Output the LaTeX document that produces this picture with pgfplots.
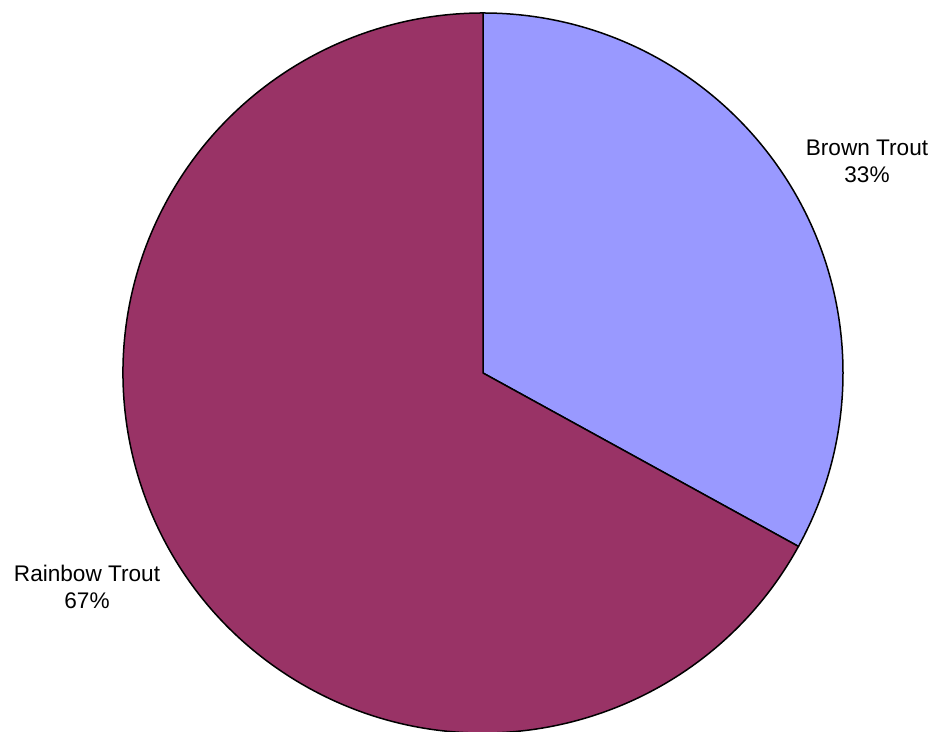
\documentclass[border=0pt]{standalone}
\usepackage{pgfplots}
\usepackage{pgfplotstable}
\pgfplotsset{compat=1.18}
\usepackage{fontspec}
\setmainfont{Liberation Sans}
\definecolor{brown}{HTML}{9999FF}
\definecolor{rainbow}{HTML}{993366}
\pgfplotstableread{
label value
Brown 33
Rainbow 67
}\datatable
\pgfplotstablegetelem{0}{value}\of\datatable
\let\vA\pgfplotsretval
\pgfplotstablegetelem{1}{value}\of\datatable
\let\vB\pgfplotsretval
\pgfmathsetmacro{\total}{\vA+\vB}
\pgfmathsetmacro{\angA}{90-360*\vA/\total}
\pgfmathtruncatemacro{\pA}{round(100*\vA/\total)}
\pgfmathtruncatemacro{\pB}{round(100*\vB/\total)}
\begin{document}%
\begin{tikzpicture}
\begin{axis}[
  x=0.5pt, y=0.5pt,
  xmin=0, xmax=938, ymin=0, ymax=732,
  hide axis, scale only axis,
  clip=false,
]
\coordinate (ll) at (axis cs:0,0);
\coordinate (ur) at (axis cs:938,732);
% Brown Trout slice
\filldraw[fill=brown, draw=black, line width=0.75pt, line join=round]
  (axis cs:483,359) -- ++(90:180pt) arc[start angle=90, end angle=\angA, radius=180pt] -- cycle;
% Rainbow Trout slice
\filldraw[fill=rainbow, draw=black, line width=0.75pt, line join=round]
  (axis cs:483,359) -- ++(\angA:180pt) arc[start angle=\angA, end angle=-270, radius=180pt] -- cycle;
\node[anchor=base, font=\fontsize{11.3}{13}\selectfont, inner sep=0pt] at (axis cs:867,576) {Brown Trout};
\node[anchor=base, font=\fontsize{11.3}{13}\selectfont, inner sep=0pt] at (axis cs:867,549) {\pA\%};
\node[anchor=base, font=\fontsize{11.3}{13}\selectfont, inner sep=0pt] at (axis cs:87,150) {Rainbow Trout};
\node[anchor=base, font=\fontsize{11.3}{13}\selectfont, inner sep=0pt] at (axis cs:87,123) {\pB\%};
\end{axis}
\pgfresetboundingbox
\path (ll) rectangle (ur);
\end{tikzpicture}%
\end{document}
